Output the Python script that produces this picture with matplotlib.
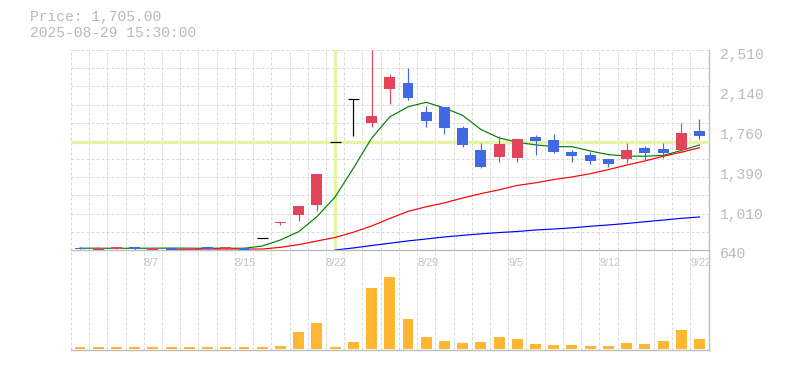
import numpy as np
import matplotlib
matplotlib.use('Agg')
import matplotlib.pyplot as plt
from matplotlib import transforms as mtransforms

nan = np.nan

# trading days (8/11 and 9/15 are holidays)
dates = ['8/1', '8/4', '8/5', '8/6', '8/7', '8/8', '8/12', '8/13', '8/14', '8/15',
         '8/18', '8/19', '8/20', '8/21', '8/22', '8/25', '8/26', '8/27', '8/28', '8/29',
         '9/1', '9/2', '9/3', '9/4', '9/5', '9/8', '9/9', '9/10', '9/11', '9/12',
         '9/16', '9/17', '9/18', '9/19', '9/22']
date_labels = ['8/7', '8/15', '8/22', '8/29', '9/5', '9/12', '9/22']

opens = [661, 643, 652, 671, 643, 659, 643, 671, 652, 662,
         749, 892, 970, 1064, 1650, 2049, 1830, 2148, 2201, 1933,
         1977, 1781, 1575, 1512, 1503, 1694, 1668, 1556, 1525, 1488,
         1494, 1594, 1584, 1575, 1753]
highs = [671, 668, 671, 671, 662, 659, 668, 671, 671, 671,
         749, 902, 1051, 1351, 1650, 2049, 2510, 2286, 2342, 1989,
         1977, 1799, 1640, 1706, 1678, 1715, 1722, 1575, 1556, 1488,
         1640, 1612, 1640, 1827, 1865]
lows = [649, 633, 652, 643, 643, 643, 643, 652, 652, 643,
        749, 877, 914, 1007, 1650, 1709, 1793, 2008, 2042, 1787,
        1725, 1606, 1410, 1466, 1466, 1531, 1544, 1466, 1447, 1419,
        1457, 1484, 1503, 1566, 1681]
closes = [649, 659, 671, 652, 659, 643, 659, 652, 671, 643,
          749, 902, 1051, 1351, 1650, 2049, 1893, 2258, 2064, 1849,
          1784, 1625, 1419, 1631, 1678, 1662, 1559, 1522, 1475, 1447,
          1575, 1550, 1547, 1737, 1705]

ma_short = [657, 657, 656, 656, 657, 658, 657, 656, 657, 656,
            677, 734, 811, 951, 1136, 1404, 1684, 1884, 1979, 2021,
            1968, 1899, 1767, 1688, 1647, 1623, 1606, 1606, 1566, 1532,
            1518, 1517, 1524, 1570, 1622]
ma_mid = [nan, nan, nan, nan, nan, 641, 645, 649, 649, 649,
          649, 665, 690, 724, 757, 806, 864, 935, 1001, 1044,
          1081, 1126, 1167, 1203, 1244, 1268, 1299, 1323, 1353, 1392,
          1434, 1473, 1516, 1554, 1596]
ma_long = [nan] * 14 + [640, 659, 682, 703, 725, 743, 762, 777, 791, 803,
                        813, 827, 836, 847, 862, 874, 888, 904, 920, 936, 949]

volumes = [20, 20, 20, 20, 20, 20, 20, 20, 20, 20,
           20, 30, 170, 260, 20, 70, 610, 713, 300, 120,
           80, 60, 70, 120, 100, 50, 40, 40, 30, 30,
           60, 50, 80, 190, 100]

price_labels = ['640', '1,010', '1,390', '1,760', '2,140', '2,510']
cross_idx = 14

UP = '#e2445c'
DOWN = '#4169e1'
GRID = '#d9d9d9'
AXIS = '#bdbdbd'
CROSS = '#e6f4a8'

W, H = 785, 370
fig = plt.figure(figsize=(W / 100, H / 100), dpi=100)


def box(x0, y0, x1, y1):
    return [x0 / W, 1 - y1 / H, (x1 - x0) / W, (y1 - y0) / H]


L, R = 70.9, 708.6
n = len(dates)
x = np.arange(n)
pmin, pmax = 640, 2510

# background axes for the vertical grid running through both panels
ax_bg = fig.add_axes(box(L, 50, R, 350))
ax_bg.set_xlim(-0.5, n - 0.5)
ax_bg.set_ylim(0, 1)
for i in range(n):
    ax_bg.axvline(i - 0.5, color=GRID, lw=0.72, ls=(0, (3, 2)), clip_on=False)
for s in ['top', 'left', 'bottom']:
    ax_bg.spines[s].set_visible(False)
ax_bg.spines['right'].set_color(AXIS)
ax_bg.spines['right'].set_linewidth(1)
ax_bg.set_xticks([])
ax_bg.set_yticks([])
ax_bg.patch.set_alpha(0)

# price panel
ax = fig.add_axes(box(L, 50, R, 250))
ax.patch.set_alpha(0)
ax.set_xlim(-0.5, n - 0.5)
ax.set_ylim(pmin, pmax)
for k in range(1, 12):
    ax.axhline(pmin + k * (pmax - pmin) / 11, color=GRID, lw=0.72,
               ls=(0, (3, 2)), clip_on=False, zorder=0)

ax.axhline(closes[cross_idx], color=CROSS, lw=2.4, zorder=1)
ax.axvline(cross_idx, color=CROSS, lw=2.4, zorder=1)

ax.plot(x, ma_short, color='#008000', lw=0.85, zorder=2)
ax.plot(x, ma_mid, color='#ff0000', lw=0.85, zorder=2)
ax.plot(x, ma_long, color='#0000ff', lw=0.85, zorder=2)

for i in range(n):
    o, h, l, c = opens[i], highs[i], lows[i], closes[i]
    if o == c:
        ax.vlines(i, l, h, color='black', lw=0.85, zorder=3)
        ax.hlines(c, i - 0.3, i + 0.3, color='black', lw=0.85, zorder=3)
        continue
    col = UP if c > o else DOWN
    ax.vlines(i, l, h, color=col, lw=0.85, zorder=3)
    ax.bar(i, abs(c - o), bottom=min(o, c), width=0.6, color=col, zorder=4)

for s in ['top', 'left', 'right']:
    ax.spines[s].set_visible(False)
ax.spines['bottom'].set_color(AXIS)
ax.spines['bottom'].set_linewidth(1)

ax.yaxis.tick_right()
ax.set_yticks(np.linspace(pmin, pmax, 6))
ax.set_yticklabels(price_labels, family='Liberation Mono', fontsize=10.5, color='#bbbbbb')
ax.tick_params(axis='y', length=0, pad=8)
shift = mtransforms.ScaledTranslation(0, -0.03, fig.dpi_scale_trans)
for lab in ax.get_yticklabels():
    lab.set_transform(lab.get_transform() + shift)

ax.set_xticks([dates.index(d) - 0.5 for d in date_labels])
ax.set_xticklabels(date_labels, family='Liberation Sans', fontsize=7.8,
                   color='#c4c4c4', ha='left')
ax.tick_params(axis='x', length=0, pad=6)

# volume panel
axv = fig.add_axes(box(L, 270, R, 350))
axv.patch.set_alpha(0)
axv.set_xlim(-0.5, n - 0.5)
axv.set_ylim(-15, 785)
axv.bar(x, volumes, width=0.6, color='#ffb733', zorder=2)
for s in ['top', 'left', 'right']:
    axv.spines[s].set_visible(False)
axv.spines['bottom'].set_color(AXIS)
axv.spines['bottom'].set_linewidth(1)
axv.set_xticks([])
axv.set_yticks([])

fig.text(30 / W, 1 - 17 / H, 'Price: 1,705.00', va='center', ha='left',
         family='Liberation Mono', fontsize=10.5, color='#b8b8b8')
fig.text(30 / W, 1 - 33 / H, '2025-08-29 15:30:00', va='center', ha='left',
         family='Liberation Mono', fontsize=10.5, color='#b8b8b8')

fig.savefig('out.png', dpi=100)
